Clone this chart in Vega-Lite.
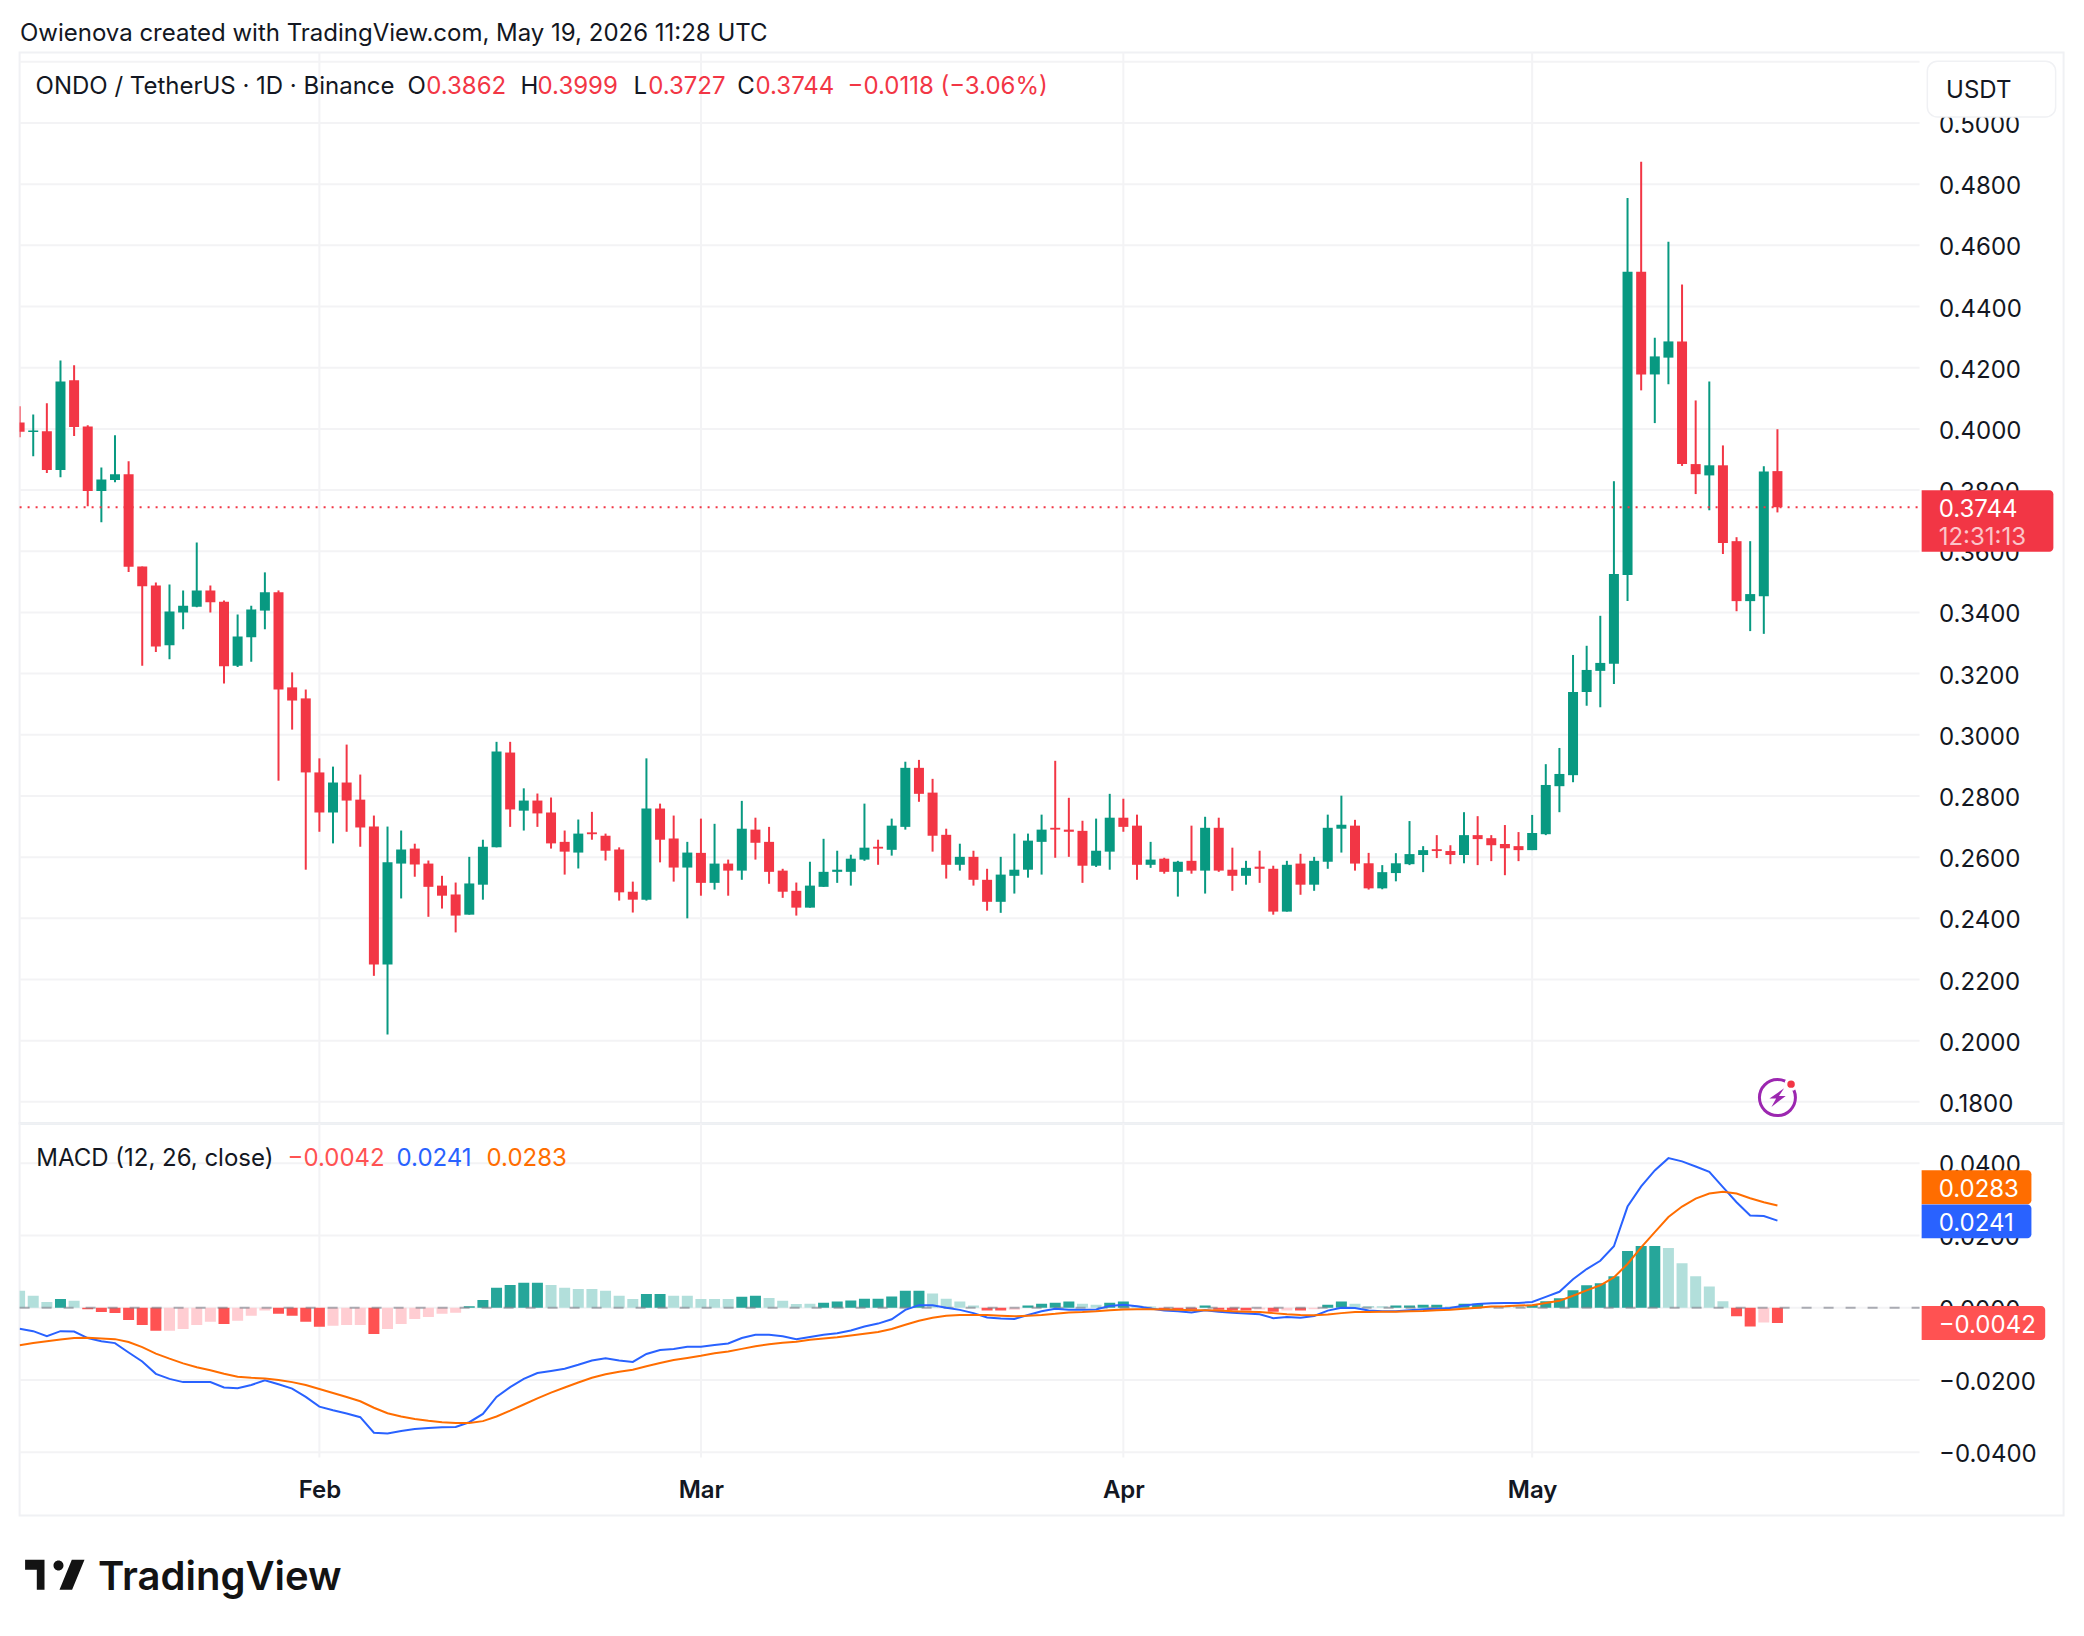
{"$schema":"https://vega.github.io/schema/vega-lite/v6.json","background":"white","padding":{"left":17.6,"top":21.5,"right":0,"bottom":0},"bounds":"flush","resolve":{"scale":{"color":"independent"}},"title":{"text":"Owienova created with TradingView.com, May 19, 2026 11:28 UTC","anchor":"start","frame":"bounds","font":"Inter","fontSize":24,"fontWeight":400,"color":"#131722","offset":6,"dx":2.4,"dy":1},"spacing":0,"config":{"view":{"stroke":"#f0f1f4","strokeWidth":2},"concat":{"spacing":0},"axis":{"labelFont":"Inter","labelColor":"#131722"}},"datasets":{"candles":[
{"date":"2026-01-10","open":0.4021,"high":0.4074,"low":0.3973,"close":0.3991,"dir":"down","hist":0.0047,"tone":"wu","macd":-0.0058,"signal":-0.0104},
{"date":"2026-01-11","open":0.399,"high":0.4047,"low":0.3911,"close":0.3995,"dir":"up","hist":0.0033,"tone":"wu","macd":-0.0065,"signal":-0.0098},
{"date":"2026-01-12","open":0.3992,"high":0.4084,"low":0.3856,"close":0.3866,"dir":"down","hist":0.0016,"tone":"wu","macd":-0.0079,"signal":-0.0093},
{"date":"2026-01-13","open":0.3866,"high":0.4224,"low":0.3842,"close":0.4155,"dir":"up","hist":0.0024,"tone":"su","macd":-0.0065,"signal":-0.0088},
{"date":"2026-01-14","open":0.4159,"high":0.4208,"low":0.3977,"close":0.4006,"dir":"down","hist":0.0019,"tone":"wu","macd":-0.0066,"signal":-0.0084},
{"date":"2026-01-15","open":0.4008,"high":0.4012,"low":0.3747,"close":0.3797,"dir":"down","hist":-0.0004,"tone":"sd","macd":-0.0084,"signal":-0.0083},
{"date":"2026-01-16","open":0.3797,"high":0.3874,"low":0.3695,"close":0.3835,"dir":"up","hist":-0.0012,"tone":"sd","macd":-0.0093,"signal":-0.0085},
{"date":"2026-01-17","open":0.3833,"high":0.3979,"low":0.3826,"close":0.3852,"dir":"up","hist":-0.0015,"tone":"sd","macd":-0.0098,"signal":-0.0087},
{"date":"2026-01-18","open":0.3852,"high":0.3894,"low":0.3532,"close":0.3549,"dir":"down","hist":-0.0034,"tone":"sd","macd":-0.0124,"signal":-0.0095},
{"date":"2026-01-19","open":0.355,"high":0.355,"low":0.3226,"close":0.3486,"dir":"down","hist":-0.0048,"tone":"sd","macd":-0.0149,"signal":-0.0109},
{"date":"2026-01-20","open":0.3488,"high":0.3498,"low":0.3271,"close":0.3289,"dir":"down","hist":-0.0064,"tone":"sd","macd":-0.0183,"signal":-0.0127},
{"date":"2026-01-21","open":0.3293,"high":0.3491,"low":0.3247,"close":0.3403,"dir":"up","hist":-0.0064,"tone":"wd","macd":-0.0197,"signal":-0.0141},
{"date":"2026-01-22","open":0.34,"high":0.3472,"low":0.3345,"close":0.3422,"dir":"up","hist":-0.0059,"tone":"wd","macd":-0.0206,"signal":-0.0154},
{"date":"2026-01-23","open":0.3419,"high":0.3629,"low":0.3417,"close":0.3472,"dir":"up","hist":-0.0048,"tone":"wd","macd":-0.0206,"signal":-0.0165},
{"date":"2026-01-24","open":0.3472,"high":0.3488,"low":0.34,"close":0.3433,"dir":"down","hist":-0.0039,"tone":"wd","macd":-0.0206,"signal":-0.0173},
{"date":"2026-01-25","open":0.3435,"high":0.3439,"low":0.3168,"close":0.3224,"dir":"down","hist":-0.0045,"tone":"sd","macd":-0.0221,"signal":-0.0183},
{"date":"2026-01-26","open":0.3226,"high":0.3393,"low":0.3222,"close":0.3321,"dir":"up","hist":-0.0036,"tone":"wd","macd":-0.0223,"signal":-0.0191},
{"date":"2026-01-27","open":0.3319,"high":0.3422,"low":0.3239,"close":0.341,"dir":"up","hist":-0.0022,"tone":"wd","macd":-0.0214,"signal":-0.0194},
{"date":"2026-01-28","open":0.3406,"high":0.3531,"low":0.3345,"close":0.3466,"dir":"up","hist":-0.0008,"tone":"wd","macd":-0.0201,"signal":-0.0196},
{"date":"2026-01-29","open":0.3466,"high":0.3472,"low":0.285,"close":0.3148,"dir":"down","hist":-0.0017,"tone":"sd","macd":-0.0212,"signal":-0.02},
{"date":"2026-01-30","open":0.3155,"high":0.3204,"low":0.3017,"close":0.3112,"dir":"down","hist":-0.0022,"tone":"sd","macd":-0.0224,"signal":-0.0206},
{"date":"2026-01-31","open":0.3119,"high":0.3148,"low":0.2559,"close":0.2877,"dir":"down","hist":-0.0039,"tone":"sd","macd":-0.0247,"signal":-0.0214},
{"date":"2026-02-01","open":0.2877,"high":0.2923,"low":0.2683,"close":0.2746,"dir":"down","hist":-0.0053,"tone":"sd","macd":-0.0274,"signal":-0.0225},
{"date":"2026-02-02","open":0.2746,"high":0.2896,"low":0.2645,"close":0.2844,"dir":"up","hist":-0.005,"tone":"wd","macd":-0.0284,"signal":-0.0236},
{"date":"2026-02-03","open":0.2844,"high":0.2968,"low":0.2683,"close":0.2785,"dir":"down","hist":-0.0048,"tone":"wd","macd":-0.0293,"signal":-0.0247},
{"date":"2026-02-04","open":0.2788,"high":0.287,"low":0.2634,"close":0.2697,"dir":"down","hist":-0.0048,"tone":"wd","macd":-0.0303,"signal":-0.0259},
{"date":"2026-02-05","open":0.27,"high":0.2736,"low":0.2212,"close":0.2249,"dir":"down","hist":-0.0073,"tone":"sd","macd":-0.0346,"signal":-0.0277},
{"date":"2026-02-06","open":0.2249,"high":0.27,"low":0.202,"close":0.2583,"dir":"up","hist":-0.0059,"tone":"wd","macd":-0.0348,"signal":-0.0292},
{"date":"2026-02-07","open":0.2579,"high":0.2687,"low":0.2465,"close":0.2625,"dir":"up","hist":-0.0045,"tone":"wd","macd":-0.0341,"signal":-0.0301},
{"date":"2026-02-08","open":0.2628,"high":0.2644,"low":0.2536,"close":0.2576,"dir":"down","hist":-0.0031,"tone":"wd","macd":-0.0336,"signal":-0.0308},
{"date":"2026-02-09","open":0.2579,"high":0.2589,"low":0.2405,"close":0.2503,"dir":"down","hist":-0.0026,"tone":"wd","macd":-0.0333,"signal":-0.0313},
{"date":"2026-02-10","open":0.2507,"high":0.2539,"low":0.2432,"close":0.2474,"dir":"down","hist":-0.0017,"tone":"wd","macd":-0.0331,"signal":-0.0317},
{"date":"2026-02-11","open":0.2478,"high":0.2517,"low":0.2354,"close":0.2409,"dir":"down","hist":-0.0014,"tone":"wd","macd":-0.033,"signal":-0.0319},
{"date":"2026-02-12","open":0.2412,"high":0.2601,"low":0.2412,"close":0.2514,"dir":"up","hist":0.0004,"tone":"su","macd":-0.0317,"signal":-0.0319},
{"date":"2026-02-13","open":0.251,"high":0.2657,"low":0.2461,"close":0.2634,"dir":"up","hist":0.0021,"tone":"su","macd":-0.0294,"signal":-0.0314},
{"date":"2026-02-14","open":0.2632,"high":0.2977,"low":0.2632,"close":0.2945,"dir":"up","hist":0.0055,"tone":"su","macd":-0.0247,"signal":-0.0301},
{"date":"2026-02-15","open":0.2942,"high":0.2977,"low":0.2699,"close":0.2756,"dir":"down","hist":0.0063,"tone":"su","macd":-0.022,"signal":-0.0285},
{"date":"2026-02-16","open":0.2752,"high":0.2825,"low":0.2687,"close":0.2785,"dir":"up","hist":0.0069,"tone":"su","macd":-0.0197,"signal":-0.0268},
{"date":"2026-02-17","open":0.2785,"high":0.2808,"low":0.2699,"close":0.2743,"dir":"down","hist":0.0069,"tone":"su","macd":-0.0181,"signal":-0.0251},
{"date":"2026-02-18","open":0.2746,"high":0.2795,"low":0.2628,"close":0.2645,"dir":"down","hist":0.0063,"tone":"wu","macd":-0.0175,"signal":-0.0235},
{"date":"2026-02-19","open":0.265,"high":0.2687,"low":0.2543,"close":0.2618,"dir":"down","hist":0.0055,"tone":"wu","macd":-0.0169,"signal":-0.0221},
{"date":"2026-02-20","open":0.2615,"high":0.2723,"low":0.2563,"close":0.2677,"dir":"up","hist":0.0052,"tone":"wu","macd":-0.0158,"signal":-0.0207},
{"date":"2026-02-21","open":0.2681,"high":0.2748,"low":0.2657,"close":0.2675,"dir":"down","hist":0.0052,"tone":"wu","macd":-0.0146,"signal":-0.0194},
{"date":"2026-02-22","open":0.267,"high":0.2677,"low":0.2589,"close":0.2621,"dir":"down","hist":0.0047,"tone":"wu","macd":-0.014,"signal":-0.0184},
{"date":"2026-02-23","open":0.2625,"high":0.2632,"low":0.2458,"close":0.2485,"dir":"down","hist":0.0033,"tone":"wu","macd":-0.0146,"signal":-0.0177},
{"date":"2026-02-24","open":0.2487,"high":0.252,"low":0.2419,"close":0.2461,"dir":"down","hist":0.0024,"tone":"wu","macd":-0.015,"signal":-0.0172},
{"date":"2026-02-25","open":0.2461,"high":0.2923,"low":0.2458,"close":0.2759,"dir":"up","hist":0.0038,"tone":"su","macd":-0.0128,"signal":-0.0162},
{"date":"2026-02-26","open":0.2759,"high":0.2775,"low":0.2583,"close":0.2657,"dir":"down","hist":0.0038,"tone":"su","macd":-0.0117,"signal":-0.0153},
{"date":"2026-02-27","open":0.2661,"high":0.2736,"low":0.252,"close":0.2566,"dir":"down","hist":0.0033,"tone":"wu","macd":-0.0114,"signal":-0.0145},
{"date":"2026-02-28","open":0.2566,"high":0.265,"low":0.24,"close":0.2615,"dir":"up","hist":0.0033,"tone":"wu","macd":-0.0108,"signal":-0.0139},
{"date":"2026-03-01","open":0.2614,"high":0.2726,"low":0.2474,"close":0.2516,"dir":"down","hist":0.0024,"tone":"wu","macd":-0.0108,"signal":-0.0133},
{"date":"2026-03-02","open":0.2516,"high":0.2709,"low":0.2494,"close":0.2579,"dir":"up","hist":0.0024,"tone":"wu","macd":-0.0103,"signal":-0.0126},
{"date":"2026-03-03","open":0.2579,"high":0.2592,"low":0.2474,"close":0.2556,"dir":"down","hist":0.0024,"tone":"wu","macd":-0.0099,"signal":-0.0121},
{"date":"2026-03-04","open":0.2556,"high":0.2784,"low":0.2526,"close":0.2693,"dir":"up","hist":0.003,"tone":"su","macd":-0.0084,"signal":-0.0114},
{"date":"2026-03-05","open":0.269,"high":0.2729,"low":0.2592,"close":0.2647,"dir":"down","hist":0.0033,"tone":"su","macd":-0.0075,"signal":-0.0107},
{"date":"2026-03-06","open":0.265,"high":0.2699,"low":0.2513,"close":0.2552,"dir":"down","hist":0.0027,"tone":"wu","macd":-0.0075,"signal":-0.0101},
{"date":"2026-03-07","open":0.2556,"high":0.2562,"low":0.2467,"close":0.2487,"dir":"down","hist":0.0019,"tone":"wu","macd":-0.0079,"signal":-0.0097},
{"date":"2026-03-08","open":0.249,"high":0.2517,"low":0.2409,"close":0.2435,"dir":"down","hist":0.001,"tone":"wu","macd":-0.0087,"signal":-0.0094},
{"date":"2026-03-09","open":0.2435,"high":0.2585,"low":0.2435,"close":0.2507,"dir":"up","hist":0.0011,"tone":"wu","macd":-0.0081,"signal":-0.0089},
{"date":"2026-03-10","open":0.2503,"high":0.266,"low":0.2503,"close":0.2552,"dir":"up","hist":0.0014,"tone":"su","macd":-0.0075,"signal":-0.0085},
{"date":"2026-03-11","open":0.2552,"high":0.2621,"low":0.2516,"close":0.2559,"dir":"up","hist":0.0017,"tone":"su","macd":-0.0071,"signal":-0.0082},
{"date":"2026-03-12","open":0.2552,"high":0.2608,"low":0.2507,"close":0.2595,"dir":"up","hist":0.002,"tone":"su","macd":-0.0063,"signal":-0.0077},
{"date":"2026-03-13","open":0.2592,"high":0.2775,"low":0.2588,"close":0.2631,"dir":"up","hist":0.0025,"tone":"su","macd":-0.0052,"signal":-0.0072},
{"date":"2026-03-14","open":0.2634,"high":0.2657,"low":0.2575,"close":0.2628,"dir":"down","hist":0.0025,"tone":"su","macd":-0.0044,"signal":-0.0067},
{"date":"2026-03-15","open":0.2624,"high":0.2726,"low":0.2605,"close":0.2703,"dir":"up","hist":0.0031,"tone":"su","macd":-0.0032,"signal":-0.0059},
{"date":"2026-03-16","open":0.2699,"high":0.2912,"low":0.269,"close":0.2892,"dir":"up","hist":0.0047,"tone":"su","macd":-0.0006,"signal":-0.0047},
{"date":"2026-03-17","open":0.2892,"high":0.2918,"low":0.2781,"close":0.2807,"dir":"down","hist":0.0047,"tone":"su","macd":0.0007,"signal":-0.0036},
{"date":"2026-03-18","open":0.2811,"high":0.2856,"low":0.2618,"close":0.267,"dir":"down","hist":0.0039,"tone":"wu","macd":0.0007,"signal":-0.0028},
{"date":"2026-03-19","open":0.2673,"high":0.2693,"low":0.253,"close":0.2575,"dir":"down","hist":0.0025,"tone":"wu","macd":0,"signal":-0.0022},
{"date":"2026-03-20","open":0.2575,"high":0.2644,"low":0.2556,"close":0.2601,"dir":"up","hist":0.0017,"tone":"wu","macd":-0.0006,"signal":-0.002},
{"date":"2026-03-21","open":0.2601,"high":0.2621,"low":0.2507,"close":0.2526,"dir":"down","hist":0.0006,"tone":"wu","macd":-0.0015,"signal":-0.002},
{"date":"2026-03-22","open":0.2526,"high":0.2562,"low":0.2425,"close":0.2454,"dir":"down","hist":-0.0008,"tone":"sd","macd":-0.0027,"signal":-0.002},
{"date":"2026-03-23","open":0.2454,"high":0.2601,"low":0.2418,"close":0.2543,"dir":"up","hist":-0.0008,"tone":"sd","macd":-0.003,"signal":-0.0022},
{"date":"2026-03-24","open":0.2539,"high":0.2677,"low":0.2481,"close":0.2559,"dir":"up","hist":-0.0006,"tone":"wd","macd":-0.0031,"signal":-0.0024},
{"date":"2026-03-25","open":0.2559,"high":0.2677,"low":0.2533,"close":0.2654,"dir":"up","hist":0.0006,"tone":"su","macd":-0.002,"signal":-0.0022},
{"date":"2026-03-26","open":0.265,"high":0.2739,"low":0.2543,"close":0.269,"dir":"up","hist":0.0011,"tone":"su","macd":-0.001,"signal":-0.002},
{"date":"2026-03-27","open":0.2696,"high":0.2915,"low":0.2598,"close":0.269,"dir":"down","hist":0.0014,"tone":"su","macd":-0.0003,"signal":-0.0017},
{"date":"2026-03-28","open":0.269,"high":0.2794,"low":0.2601,"close":0.2683,"dir":"down","hist":0.0017,"tone":"su","macd":-0.0006,"signal":-0.0013},
{"date":"2026-03-29","open":0.2686,"high":0.2719,"low":0.2516,"close":0.2572,"dir":"down","hist":0.0011,"tone":"wu","macd":-0.0006,"signal":-0.0012},
{"date":"2026-03-30","open":0.2572,"high":0.2726,"low":0.2568,"close":0.2621,"dir":"up","hist":0.0008,"tone":"wu","macd":-0.0005,"signal":-0.001},
{"date":"2026-03-31","open":0.2618,"high":0.2807,"low":0.2559,"close":0.2729,"dir":"up","hist":0.0014,"tone":"su","macd":0.0005,"signal":-0.0007},
{"date":"2026-04-01","open":0.2729,"high":0.2791,"low":0.2683,"close":0.2699,"dir":"down","hist":0.0017,"tone":"su","macd":0.0008,"signal":-0.0005},
{"date":"2026-04-02","open":0.2703,"high":0.2739,"low":0.2526,"close":0.2575,"dir":"down","hist":0.0006,"tone":"wu","macd":0.0004,"signal":-0.0004},
{"date":"2026-04-03","open":0.2575,"high":0.265,"low":0.2565,"close":0.2592,"dir":"up","hist":0.0003,"tone":"wu","macd":-0.0002,"signal":-0.0004},
{"date":"2026-04-04","open":0.2595,"high":0.2598,"low":0.2546,"close":0.2552,"dir":"down","hist":-0.0006,"tone":"sd","macd":-0.0008,"signal":-0.0005},
{"date":"2026-04-05","open":0.2552,"high":0.2588,"low":0.2471,"close":0.2585,"dir":"up","hist":-0.0006,"tone":"sd","macd":-0.001,"signal":-0.0006},
{"date":"2026-04-06","open":0.2588,"high":0.2703,"low":0.2546,"close":0.2556,"dir":"down","hist":-0.0006,"tone":"sd","macd":-0.0013,"signal":-0.0007},
{"date":"2026-04-07","open":0.2556,"high":0.2732,"low":0.2481,"close":0.2696,"dir":"up","hist":0.0006,"tone":"su","macd":-0.0007,"signal":-0.0007},
{"date":"2026-04-08","open":0.2696,"high":0.2729,"low":0.2552,"close":0.2556,"dir":"down","hist":-0.0006,"tone":"sd","macd":-0.0011,"signal":-0.0008},
{"date":"2026-04-09","open":0.2559,"high":0.2631,"low":0.249,"close":0.2539,"dir":"down","hist":-0.0008,"tone":"sd","macd":-0.0014,"signal":-0.001},
{"date":"2026-04-10","open":0.2539,"high":0.2588,"low":0.251,"close":0.2565,"dir":"up","hist":-0.0008,"tone":"sd","macd":-0.0016,"signal":-0.0011},
{"date":"2026-04-11","open":0.2569,"high":0.2621,"low":0.2516,"close":0.2562,"dir":"down","hist":-0.0005,"tone":"wd","macd":-0.0018,"signal":-0.0012},
{"date":"2026-04-12","open":0.2562,"high":0.2572,"low":0.2412,"close":0.2422,"dir":"down","hist":-0.0011,"tone":"sd","macd":-0.0029,"signal":-0.0015},
{"date":"2026-04-13","open":0.2422,"high":0.2588,"low":0.2422,"close":0.2575,"dir":"up","hist":-0.0008,"tone":"wd","macd":-0.0026,"signal":-0.0018},
{"date":"2026-04-14","open":0.2579,"high":0.2611,"low":0.2477,"close":0.251,"dir":"down","hist":-0.0008,"tone":"sd","macd":-0.0028,"signal":-0.002},
{"date":"2026-04-15","open":0.251,"high":0.2601,"low":0.249,"close":0.2588,"dir":"up","hist":-0.0004,"tone":"wd","macd":-0.0023,"signal":-0.0021},
{"date":"2026-04-16","open":0.2585,"high":0.2739,"low":0.2562,"close":0.2696,"dir":"up","hist":0.0008,"tone":"su","macd":-0.0008,"signal":-0.0019},
{"date":"2026-04-17","open":0.2693,"high":0.2801,"low":0.2615,"close":0.2706,"dir":"up","hist":0.0017,"tone":"su","macd":0,"signal":-0.0015},
{"date":"2026-04-18","open":0.2703,"high":0.2722,"low":0.2556,"close":0.2579,"dir":"down","hist":0.0011,"tone":"wu","macd":-0.0001,"signal":-0.0012},
{"date":"2026-04-19","open":0.258,"high":0.2614,"low":0.2494,"close":0.2498,"dir":"down","hist":0.0005,"tone":"wu","macd":-0.0008,"signal":-0.0012},
{"date":"2026-04-20","open":0.2498,"high":0.2574,"low":0.2495,"close":0.2551,"dir":"up","hist":0.0004,"tone":"wu","macd":-0.001,"signal":-0.0011},
{"date":"2026-04-21","open":0.2548,"high":0.2613,"low":0.2521,"close":0.258,"dir":"up","hist":0.0006,"tone":"su","macd":-0.001,"signal":-0.0011},
{"date":"2026-04-22","open":0.2577,"high":0.2718,"low":0.2574,"close":0.261,"dir":"up","hist":0.0006,"tone":"su","macd":-0.0007,"signal":-0.001},
{"date":"2026-04-23","open":0.2607,"high":0.2636,"low":0.2551,"close":0.2623,"dir":"up","hist":0.0008,"tone":"su","macd":-0.0004,"signal":-0.0009},
{"date":"2026-04-24","open":0.2626,"high":0.2672,"low":0.2597,"close":0.262,"dir":"down","hist":0.0008,"tone":"su","macd":-0.0003,"signal":-0.0007},
{"date":"2026-04-25","open":0.262,"high":0.2639,"low":0.2577,"close":0.2607,"dir":"down","hist":0.0003,"tone":"wu","macd":-0.0001,"signal":-0.0006},
{"date":"2026-04-26","open":0.2607,"high":0.2747,"low":0.258,"close":0.2672,"dir":"up","hist":0.0011,"tone":"su","macd":0.0006,"signal":-0.0003},
{"date":"2026-04-27","open":0.2672,"high":0.2734,"low":0.2574,"close":0.2659,"dir":"down","hist":0.0011,"tone":"su","macd":0.001,"signal":0},
{"date":"2026-04-28","open":0.2662,"high":0.2672,"low":0.2587,"close":0.2639,"dir":"down","hist":0.0005,"tone":"wu","macd":0.0012,"signal":0.0003},
{"date":"2026-04-29","open":0.2643,"high":0.2705,"low":0.2541,"close":0.2629,"dir":"down","hist":0.0005,"tone":"wu","macd":0.0013,"signal":0.0004},
{"date":"2026-04-30","open":0.2636,"high":0.2682,"low":0.2587,"close":0.2623,"dir":"down","hist":0.0005,"tone":"wu","macd":0.0013,"signal":0.0006},
{"date":"2026-05-01","open":0.2623,"high":0.2738,"low":0.2623,"close":0.2679,"dir":"up","hist":0.0008,"tone":"su","macd":0.0016,"signal":0.0007},
{"date":"2026-05-02","open":0.2675,"high":0.2904,"low":0.2672,"close":0.2836,"dir":"up","hist":0.0018,"tone":"su","macd":0.003,"signal":0.0013},
{"date":"2026-05-03","open":0.2832,"high":0.2957,"low":0.2747,"close":0.2872,"dir":"up","hist":0.0026,"tone":"su","macd":0.0044,"signal":0.0019},
{"date":"2026-05-04","open":0.2868,"high":0.3261,"low":0.2845,"close":0.314,"dir":"up","hist":0.0048,"tone":"su","macd":0.0079,"signal":0.0033},
{"date":"2026-05-05","open":0.314,"high":0.3291,"low":0.3095,"close":0.3212,"dir":"up","hist":0.0062,"tone":"su","macd":0.0107,"signal":0.0048},
{"date":"2026-05-06","open":0.3209,"high":0.3389,"low":0.309,"close":0.3235,"dir":"up","hist":0.0068,"tone":"su","macd":0.013,"signal":0.0062},
{"date":"2026-05-07","open":0.3232,"high":0.3829,"low":0.3166,"close":0.3526,"dir":"up","hist":0.0087,"tone":"su","macd":0.017,"signal":0.0084},
{"date":"2026-05-08","open":0.3522,"high":0.4755,"low":0.3437,"close":0.4514,"dir":"up","hist":0.0157,"tone":"su","macd":0.028,"signal":0.0121},
{"date":"2026-05-09","open":0.4514,"high":0.4873,"low":0.4126,"close":0.4178,"dir":"down","hist":0.0171,"tone":"su","macd":0.0336,"signal":0.0167},
{"date":"2026-05-10","open":0.4178,"high":0.4298,"low":0.4019,"close":0.4237,"dir":"up","hist":0.0171,"tone":"su","macd":0.038,"signal":0.0209},
{"date":"2026-05-11","open":0.4233,"high":0.4612,"low":0.4146,"close":0.4286,"dir":"up","hist":0.0165,"tone":"wu","macd":0.0414,"signal":0.0251},
{"date":"2026-05-12","open":0.4286,"high":0.4472,"low":0.3879,"close":0.3885,"dir":"down","hist":0.0123,"tone":"wu","macd":0.0405,"signal":0.028},
{"date":"2026-05-13","open":0.3885,"high":0.4093,"low":0.3787,"close":0.3852,"dir":"down","hist":0.0087,"tone":"wu","macd":0.0391,"signal":0.0302},
{"date":"2026-05-14","open":0.3848,"high":0.4155,"low":0.3734,"close":0.3881,"dir":"up","hist":0.0059,"tone":"wu","macd":0.0376,"signal":0.0316},
{"date":"2026-05-15","open":0.3881,"high":0.3946,"low":0.3591,"close":0.3627,"dir":"down","hist":0.0018,"tone":"wu","macd":0.0334,"signal":0.0321},
{"date":"2026-05-16","open":0.3633,"high":0.3646,"low":0.3404,"close":0.3437,"dir":"down","hist":-0.0024,"tone":"sd","macd":0.0292,"signal":0.0316},
{"date":"2026-05-17","open":0.3437,"high":0.3633,"low":0.3339,"close":0.346,"dir":"up","hist":-0.0052,"tone":"sd","macd":0.0255,"signal":0.0303},
{"date":"2026-05-18","open":0.3453,"high":0.3878,"low":0.333,"close":0.3861,"dir":"up","hist":-0.0041,"tone":"wd","macd":0.0254,"signal":0.0292},
{"date":"2026-05-19","open":0.3862,"high":0.3999,"low":0.3727,"close":0.3744,"dir":"down","hist":-0.0042,"tone":"sd","macd":0.0241,"signal":0.0283}
],
"months":[{"date":"2026-02-01"},{"date":"2026-03-01"},{"date":"2026-04-01"},{"date":"2026-05-01"}],
"priceGrid":[{"date":"2026-01-10","to":"2026-05-29T10:20:00Z","price":0.52},{"date":"2026-01-10","to":"2026-05-29T10:20:00Z","price":0.5},{"date":"2026-01-10","to":"2026-05-29T10:20:00Z","price":0.48},{"date":"2026-01-10","to":"2026-05-29T10:20:00Z","price":0.46},{"date":"2026-01-10","to":"2026-05-29T10:20:00Z","price":0.44},{"date":"2026-01-10","to":"2026-05-29T10:20:00Z","price":0.42},{"date":"2026-01-10","to":"2026-05-29T10:20:00Z","price":0.4},{"date":"2026-01-10","to":"2026-05-29T10:20:00Z","price":0.38},{"date":"2026-01-10","to":"2026-05-29T10:20:00Z","price":0.36},{"date":"2026-01-10","to":"2026-05-29T10:20:00Z","price":0.34},{"date":"2026-01-10","to":"2026-05-29T10:20:00Z","price":0.32},{"date":"2026-01-10","to":"2026-05-29T10:20:00Z","price":0.3},{"date":"2026-01-10","to":"2026-05-29T10:20:00Z","price":0.28},{"date":"2026-01-10","to":"2026-05-29T10:20:00Z","price":0.26},{"date":"2026-01-10","to":"2026-05-29T10:20:00Z","price":0.24},{"date":"2026-01-10","to":"2026-05-29T10:20:00Z","price":0.22},{"date":"2026-01-10","to":"2026-05-29T10:20:00Z","price":0.2},{"date":"2026-01-10","to":"2026-05-29T10:20:00Z","price":0.18}],
"macdGrid":[{"date":"2026-01-10","to":"2026-05-29T10:20:00Z","value":0.04},{"date":"2026-01-10","to":"2026-05-29T10:20:00Z","value":0.02},{"date":"2026-01-10","to":"2026-05-29T10:20:00Z","value":0},{"date":"2026-01-10","to":"2026-05-29T10:20:00Z","value":-0.02},{"date":"2026-01-10","to":"2026-05-29T10:20:00Z","value":-0.04}],
"priceText":[{"date":"2026-01-11T04:11:00Z","level":0.5126,"label":"ONDO / TetherUS · 1D · Binance","kind":"ink"},{"date":"2026-02-07T11:21:00Z","level":0.5126,"label":"O","kind":"ink"},{"date":"2026-02-08T20:07:00Z","level":0.5126,"label":"0.3862","kind":"down"},{"date":"2026-02-15T18:23:00Z","level":0.5126,"label":"H","kind":"ink"},{"date":"2026-02-17T00:20:00Z","level":0.5126,"label":"0.3999","kind":"down"},{"date":"2026-02-24T01:25:00Z","level":0.5126,"label":"L","kind":"ink"},{"date":"2026-02-25T03:07:00Z","level":0.5126,"label":"0.3727","kind":"down"},{"date":"2026-03-03T15:52:00Z","level":0.5126,"label":"C","kind":"ink"},{"date":"2026-03-05T00:15:00Z","level":0.5126,"label":"0.3744","kind":"down"},{"date":"2026-03-11T18:15:00Z","level":0.5126,"label":"−0.0118 (−3.06%)","kind":"down"},{"date":"2026-05-30T20:00:00Z","level":0.3745,"label":"0.3744","kind":"white"},{"date":"2026-05-30T20:00:00Z","level":0.3654,"label":"12:31:13","kind":"faint"},{"date":"2026-05-31T09:00:00Z","level":0.5116,"label":"USDT","kind":"ink"}],
"macdText":[{"date":"2026-01-11T05:24:00Z","level":0.04194,"label":"MACD (12, 26, close)","kind":"ink"},{"date":"2026-01-29T16:00:00Z","level":0.04194,"label":"−0.0042","kind":"hist"},{"date":"2026-02-06T16:00:00Z","level":0.04194,"label":"0.0241","kind":"macd"},{"date":"2026-02-13T06:30:00Z","level":0.04194,"label":"0.0283","kind":"signal"},{"date":"2026-05-30T20:00:00Z","level":0.0334,"label":"0.0283","kind":"white"},{"date":"2026-05-30T20:00:00Z","level":0.0239,"label":"0.0241","kind":"white"},{"date":"2026-05-30T20:00:00Z","level":-0.0042,"label":"−0.0042","kind":"white"}],
"macdTags":[{"date":"2026-05-29T14:00:00Z","to":"2026-06-06T15:20:00Z","top":0.03805,"bottom":0.02867,"kind":"signal"},{"date":"2026-05-29T14:00:00Z","to":"2026-06-06T15:20:00Z","top":0.02858,"bottom":0.01921,"kind":"macd"},{"date":"2026-05-29T14:00:00Z","to":"2026-06-07T15:36:00Z","top":0.00046,"bottom":-0.00891,"kind":"hist"}]
},
"vconcat":[
{"width":2044,"height":1071,"layer":[
{"data":{"name":"months"},"mark":{"type":"rule","color":"#f3f3f5","strokeWidth":2},"encoding":{"x":{"field":"date","type":"temporal","scale":{"type":"utc","domain":[1768003200000,1780963200000],"padding":0},"axis":null}}},
{"data":{"name":"priceGrid"},"mark":{"type":"rule","color":"#f3f3f5","strokeWidth":2},"encoding":{"x":{"field":"date","type":"temporal"},"x2":{"field":"to"},"y":{"field":"price","type":"quantitative","scale":{"domain":[0.17293,0.52305],"nice":false,"zero":false},"axis":{"orient":"right","values":[0.5,0.48,0.46,0.44,0.42,0.4,0.38,0.36,0.34,0.32,0.3,0.28,0.26,0.24,0.22,0.2,0.18],"format":".4f","labelPadding":-125,"labelOffset":2.5,"labelAlign":"left","labelBaseline":"middle","labelFontSize":24,"labelFont":"Inter","labelColor":"#131722","ticks":false,"domain":false,"grid":false,"title":null,"labelOverlap":false,"labelBound":false,"labelFlush":false}}}},
{"data":{"name":"candles"},"mark":{"type":"rule","strokeWidth":2,"clip":true},"encoding":{"x":{"field":"date","type":"temporal"},"y":{"field":"low","type":"quantitative"},"y2":{"field":"high"},"color":{"field":"dir","type":"nominal","legend":null,"scale":{"domain":["up","down","ink","white","faint"],"range":["#089981","#f23645","#131722","#ffffff","#fbc4c9"]}}}},
{"data":{"name":"candles"},"mark":{"type":"bar","size":10,"clip":true},"encoding":{"x":{"field":"date","type":"temporal"},"y":{"field":"open","type":"quantitative","stack":null},"y2":{"field":"close"},"color":{"field":"dir","type":"nominal","legend":null}}},
{"data":{"values":[{"date":"2026-01-10","to":"2026-05-29T10:20:00Z","price":0.3744}]},"mark":{"type":"rule","color":"#f23645","strokeWidth":2,"strokeDash":[2,6]},"encoding":{"x":{"field":"date","type":"temporal"},"x2":{"field":"to"},"y":{"field":"price","type":"quantitative"}}},
{"data":{"values":[{"date":"2026-01-10","to":"2026-06-09","price":0.17293}]},"mark":{"type":"rule","color":"#e0e3eb","strokeWidth":2},"encoding":{"x":{"field":"date","type":"temporal"},"x2":{"field":"to"},"y":{"field":"price","type":"quantitative"}}},
{"data":{"values":[{"date":"2026-05-29T14:00:00Z","to":"2026-06-08T06:00:00Z","top":0.37995,"bottom":0.3598}]},"mark":{"type":"rect","color":"#f23645","cornerRadiusTopRight":4,"cornerRadiusBottomRight":4},"encoding":{"x":{"field":"date","type":"temporal"},"x2":{"field":"to"},"y":{"field":"top","type":"quantitative"},"y2":{"field":"bottom"}}},
{"data":{"values":[{"date":"2026-05-30","to":"2026-06-08T10:00:00Z","top":0.5202,"bottom":0.502}]},"mark":{"type":"rect","fill":"#ffffff","stroke":"#f0f1f4","strokeWidth":1.5,"cornerRadius":10},"encoding":{"x":{"field":"date","type":"temporal"},"x2":{"field":"to"},"y":{"field":"top","type":"quantitative"},"y2":{"field":"bottom"}}},
{"data":{"name":"priceText"},"mark":{"type":"text","align":"left","baseline":"middle","font":"Inter","fontSize":24,"dy":3},"encoding":{"x":{"field":"date","type":"temporal"},"y":{"field":"level","type":"quantitative"},"text":{"field":"label"},"color":{"field":"kind","type":"nominal","legend":null}}},
{"data":{"values":[{"date":"2026-05-19","price":0.1814}]},"mark":{"type":"point","shape":"circle","size":1296,"filled":false,"color":"#9c27b0","strokeWidth":3,"opacity":1},"encoding":{"x":{"field":"date","type":"temporal"},"y":{"field":"price","type":"quantitative"}}},
{"data":{"values":[{"date":"2026-05-19","price":0.1814}]},"mark":{"type":"point","shape":"M6.7 -9.3 L-8 1 L-1.3 1 L-6 9.3 L8.3 -1.7 L1.5 -1.7 Z","size":4,"filled":true,"color":"#9c27b0","opacity":1},"encoding":{"x":{"field":"date","type":"temporal"},"y":{"field":"price","type":"quantitative"}}},
{"data":{"values":[{"date":"2026-05-20","price":0.1858}]},"mark":{"type":"point","shape":"circle","size":110,"filled":true,"fill":"#f23645","stroke":"#ffffff","strokeWidth":3,"opacity":1},"encoding":{"x":{"field":"date","type":"temporal"},"y":{"field":"price","type":"quantitative"}}}
]},
{"width":2044,"height":392,"layer":[
{"data":{"name":"months"},"mark":{"type":"rule","color":"#f3f3f5","strokeWidth":2},"encoding":{"x":{"field":"date","type":"temporal","scale":{"type":"utc","domain":[1768003200000,1780963200000],"padding":0},"axis":{"orient":"bottom","values":[1769904000000,1772323200000,1775001600000,1777593600000],"labelExpr":"utcFormat(datum.value,'%b')","labelPadding":-37,"labelFontSize":24,"labelFontWeight":600,"labelFont":"Inter","labelColor":"#131722","ticks":false,"domain":false,"grid":false,"title":null,"labelFlush":false,"labelOverlap":false}},"y":{"datum":0.05099,"type":"quantitative"},"y2":{"datum":-0.0415}}},
{"data":{"name":"macdGrid"},"mark":{"type":"rule","color":"#f3f3f5","strokeWidth":2},"encoding":{"x":{"field":"date","type":"temporal"},"x2":{"field":"to"},"y":{"field":"value","type":"quantitative","scale":{"domain":[-0.05752,0.05099],"nice":false,"zero":false},"axis":{"orient":"right","values":[0.04,0.02,0,-0.02,-0.04],"format":".4f","labelPadding":-125,"labelOffset":2.5,"labelAlign":"left","labelBaseline":"middle","labelFontSize":24,"labelFont":"Inter","labelColor":"#131722","ticks":false,"domain":false,"grid":false,"title":null,"labelOverlap":false,"labelBound":false,"labelFlush":false}}}},
{"data":{"name":"candles"},"mark":{"type":"bar","size":11,"clip":true},"encoding":{"x":{"field":"date","type":"temporal"},"y":{"field":"hist","type":"quantitative","stack":null},"y2":{"datum":0},"color":{"field":"tone","type":"nominal","legend":null,"scale":{"domain":["su","wu","sd","wd","ink","hist","macd","signal","white"],"range":["#26a69a","#b2dfdb","#ff5252","#ffcdd2","#131722","#ff5252","#2962ff","#ff6d00","#ffffff"]}}}},
{"data":{"values":[{"date":"2026-01-10","to":"2026-05-29T10:20:00Z","value":0}]},"mark":{"type":"rule","color":"#787b86","opacity":0.6,"strokeWidth":2,"strokeDash":[10,12]},"encoding":{"x":{"field":"date","type":"temporal"},"x2":{"field":"to"},"y":{"field":"value","type":"quantitative"}}},
{"data":{"name":"candles"},"mark":{"type":"line","color":"#2962ff","strokeWidth":2,"clip":true},"encoding":{"x":{"field":"date","type":"temporal"},"y":{"field":"macd","type":"quantitative"}}},
{"data":{"name":"candles"},"mark":{"type":"line","color":"#ff6d00","strokeWidth":2,"clip":true},"encoding":{"x":{"field":"date","type":"temporal"},"y":{"field":"signal","type":"quantitative"}}},
{"data":{"name":"macdTags"},"mark":{"type":"rect","cornerRadiusTopRight":4,"cornerRadiusBottomRight":4},"encoding":{"x":{"field":"date","type":"temporal"},"x2":{"field":"to"},"y":{"field":"top","type":"quantitative"},"y2":{"field":"bottom"},"color":{"field":"kind","type":"nominal","legend":null}}},
{"data":{"name":"macdText"},"mark":{"type":"text","align":"left","baseline":"middle","font":"Inter","fontSize":24,"dy":3},"encoding":{"x":{"field":"date","type":"temporal"},"y":{"field":"level","type":"quantitative"},"text":{"field":"label"},"color":{"field":"kind","type":"nominal","legend":null}}}
]},
{"width":2044,"height":118.5,"view":{"stroke":null},"layer":[
{"data":{"values":[{"date":"2026-01-12T14:00:00Z","level":0.5}]},"mark":{"type":"point","shape":"M-29.7 -15 L-10.3 -15 L-10.3 15 L-18 15 L-18 -5 L-29.7 -5 Z M-1.3 -9.3 A5 5 0 1 1 8.7 -9.3 A5 5 0 1 1 -1.3 -9.3 Z M17 -15 L29.7 -15 L17.3 15 L4.7 15 Z","size":4,"filled":true,"color":"#131313","opacity":1},"encoding":{"x":{"field":"date","type":"temporal","scale":{"type":"utc","domain":[1768003200000,1780963200000],"padding":0},"axis":null},"y":{"field":"level","type":"quantitative","scale":{"domain":[0,1]},"axis":null}}},
{"data":{"values":[{"date":"2026-01-15T18:00:00Z","level":0.5,"label":"TradingView"}]},"mark":{"type":"text","align":"left","baseline":"middle","font":"Inter","fontSize":40,"fontWeight":600,"color":"#131313","dy":3},"encoding":{"x":{"field":"date","type":"temporal"},"y":{"field":"level","type":"quantitative"},"text":{"field":"label"}}}
]}
]}
